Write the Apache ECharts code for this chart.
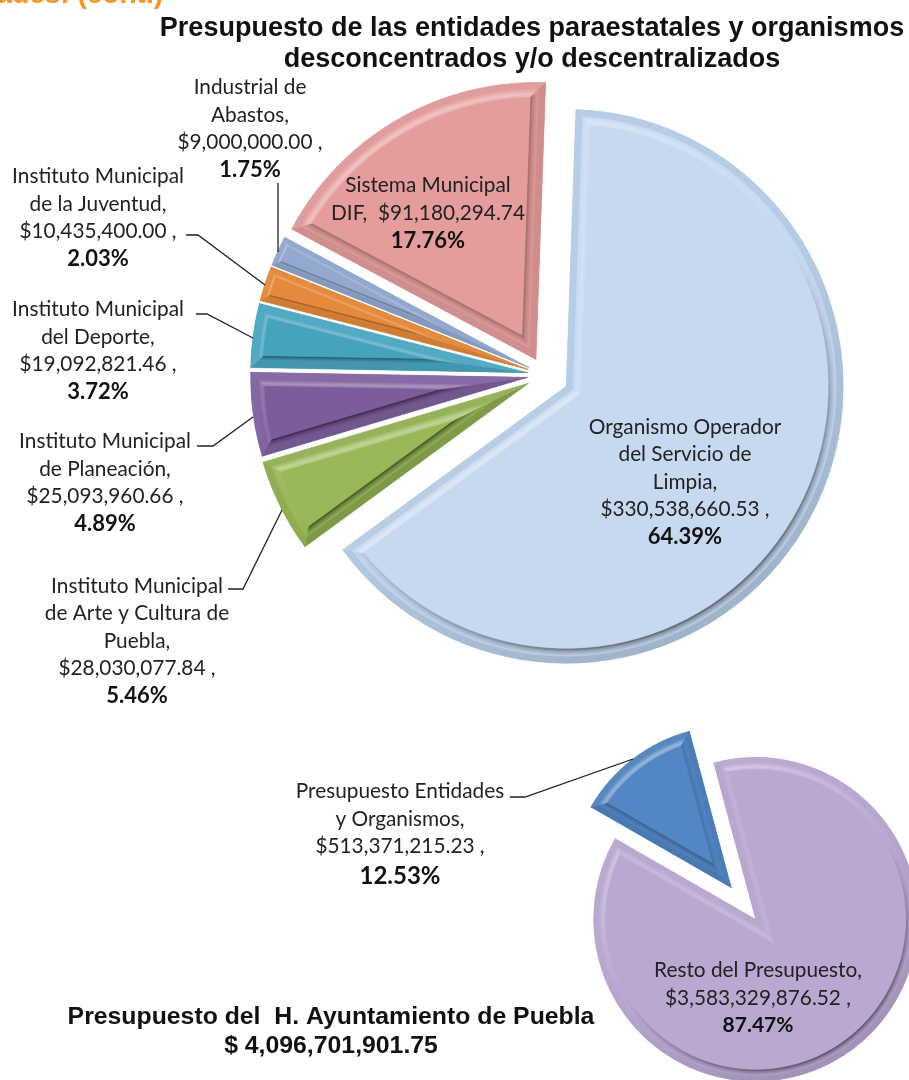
<!DOCTYPE html>
<html><head><meta charset="utf-8">
<style>html,body{margin:0;padding:0;background:#fff;overflow:hidden}#c{width:909px;height:1080px}</style>
<script src="https://cdn.jsdelivr.net/npm/echarts@6/dist/echarts.min.js"></script>
</head><body><div id="c"></div>
<script>
// ---- data ----
const mainNames = ['Organismo Operador\ndel Servicio de\nLimpia,','Instituto Municipal\nde Arte y Cultura de\nPuebla,','Instituto Municipal\nde Planeación,','Instituto Municipal\ndel Deporte,','Instituto Municipal\nde la Juventud,','Industrial de\nAbastos,','Sistema Municipal\nDIF, '];
const mainValues = [330538660.53,28030077.84,25093960.66,19092821.46,10435400.00,9000000.00,91180294.74];
const mainFaces = ['#C6D9F1','#98B957','#7C5C9A','#46A3BC','#E58A3C','#94A9CF','#E59D9C'];
const mainRims  = ['#B4CBE6','#8FAE52','#8064A2','#4BA7C0','#E2883A','#8FA5CC','#DD9897'];
const smallNames = ['Resto del Presupuesto,','Presupuesto Entidades\ny Organismos,'];
const smallValues = [3583329876.52,513371215.23];
const smallFaces = ['#BAA8D2','#5286C4'];
const smallRims = ['#B7A5CF','#4F81BD'];

// ---- layout (not data) ----
const mainPie = {cx:545,cy:375,r:277,start:2,offsets:[24,18.5,17.5,17.5,17.5,17.5,18]};
const smallPie = {cx:743.5,cy:903.5,r:162,start:-15,offsets:[20,20]};
const mainLabels = [
 {x:685,y:482,pct:'b'},{x:137,y:641,pct:'b',line:[[228,589],[243,589],[282,510]]},{x:105,y:483,pct:'b',line:[[197,446],[213,446],[253,417]]},
 {x:98,y:351,pct:'b',line:[[196,314],[207,314],[253,338]]},{x:98,y:218,pct:'b',line:[[186,235],[198,235],[265,285]]},
 {x:250,y:129,pct:'b',line:[[278,183],[278,183],[278,252]]},{x:428,y:213,pct:'b'}];
const smallLabels = [{x:758,y:998,pct:'s'},{x:400,y:835,pct:'l',line:[[510,797],[525,797],[633,759]]}];

const money = v => '$'+v.toLocaleString('en-US',{minimumFractionDigits:2,maximumFractionDigits:2});
const FONT = 'Lato';

function hex(c){return [1,3,5].map(i=>parseInt(c.substr(i,2),16));}
function mix(c,t,k){const a=hex(c),b=hex(t);return 'rgb('+a.map((v,i)=>Math.round(v+(b[i]-v)*k)).join(',')+')';}

// slice geometry from the values
function slices(values,pie){
  const tot=values.reduce((a,b)=>a+b,0);let a=pie.start;
  return values.map((v,i)=>{
    const sweep=v/tot*360, a0=a, a1=a+sweep; a=a1;
    const mid=(a0+a1)/2*Math.PI/180;
    const off=pie.offsets[i];
    return {a0,a1,half:sweep/2,cx:pie.cx+Math.sin(mid)*off,cy:pie.cy-Math.cos(mid)*off,mid,r:pie.r};
  });
}
function outline(s,ins,N){
  const h=s.half*Math.PI/180, d=ins/Math.sin(h), pts=[[s.cx+Math.sin(s.mid)*d,s.cy-Math.cos(s.mid)*d]];
  const R=s.r-ins, sh=Math.asin(ins/R), b0=s.a0*Math.PI/180+sh, b1=s.a1*Math.PI/180-sh;
  for(let i=0;i<=N;i++){const t=b0+(b1-b0)*i/N;pts.push([s.cx+Math.sin(t)*R,s.cy-Math.cos(t)*R]);}
  return pts;
}
function band(A,B,color,lit,dark,children){
  const n=A.length;
  for(let i=0;i<n;i++){
    const j=(i+1)%n,p=A[i],q=A[j],u=B[j],w=B[i];
    let ex=q[0]-p[0],ey=q[1]-p[1],l=Math.hypot(ex,ey)||1;let nx=ey/l,ny=-ex/l;
    const ox=(p[0]+q[0]-u[0]-w[0]),oy=(p[1]+q[1]-u[1]-w[1]);
    if(nx*ox+ny*oy<0){nx=-nx;ny=-ny;}
    const light=-ny*0.85-nx*0.5;
    const fill=light>0?mix(color,'#FFFFFF',Math.min(1,light)*lit):mix(color,'#000000',Math.min(1,-light)*dark);
    children.push({type:'polygon',shape:{points:[p,q,u,w]},style:{fill,stroke:fill,lineWidth:0.5}});
  }
}
function bevelChildren(s,face,rim){
  const w=s.r*Math.sin(Math.min(s.half,90)*Math.PI/180);
  const k=Math.max(s.r/277,.8);
  const i1=Math.min(7*k,w*0.30), i2=i1+Math.min(8*k,w*0.16);
  const N=Math.max(6,Math.ceil(s.half*2/3));
  const c=[];
  band(outline(s,0.01,N),outline(s,i1,N),rim,0.06,0.12,c);
  const steps=[[.12,.08],[.28,.18],[.42,.3],[.3,.5]];
  steps.forEach((st,q)=>{
    const a=i1+(i2-i1)*q/steps.length,b=i1+(i2-i1)*(q+1)/steps.length;
    band(outline(s,a,N),outline(s,b,N),face,st[0],st[1],c);
  });
  c.push({type:'polygon',shape:{points:outline(s,i2,N)},style:{fill:face,stroke:face,lineWidth:0.5}});
  return c;
}
function bevelSeries(name,geo,faces,rims){
  return {type:'custom',name:name,coordinateSystem:'none',silent:true,z:2,animation:false,clip:false,
    data:geo.map((_,i)=>i),
    renderItem:(p,api)=>{const i=api.value(0);return {type:'group',children:bevelChildren(geo[i],faces[i],rims[i])};},
    tooltip:{show:false}};
}
function basePie(name,names,values,pie,rims,visible,offset){
  return {type:'pie',name:name,z:1,center:[pie.cx,pie.cy],radius:[0,pie.r],startAngle:90-pie.start,clockwise:true,
    avoidLabelOverlap:false,animation:false,silent:true,selectedMode:'multiple',selectedOffset:offset,minAngle:0,
    label:{show:false},labelLine:{show:false},emphasis:{disabled:true},
    data:values.map((v,i)=>({name:names[i],value:v,selected:visible(i),
      itemStyle:{color:visible(i)?rims[i]:'transparent',borderWidth:0}}))};
}
function labelPie(name,names,values,pie,table){
  return {type:'pie',name:name,z:3,center:[pie.cx,pie.cy],radius:[0,pie.r],startAngle:90-pie.start,clockwise:true,
    avoidLabelOverlap:false,animation:false,silent:true,percentPrecision:2,emphasis:{disabled:true},
    itemStyle:{color:'transparent',borderWidth:0},
    label:{show:true,position:'outside',fontFamily:FONT,fontSize:20.8,lineHeight:27.5,color:'#222',align:'center',
      formatter:p=>{
        const nm=p.name,isDif=nm.endsWith(' ');
        const lines=nm.split('\n');
        lines[lines.length-1]=lines[lines.length-1]+(isDif?' '+money(p.value):'');
        if(!isDif) lines.push(money(p.value)+' ,');
        return lines.map(l=>'{n|'+l+'}').join('\n')+'\n{'+table[p.dataIndex].pct+'|'+p.percent.toFixed(2)+'%}';
      },
      rich:{n:{fontFamily:FONT,fontSize:20.8,lineHeight:27.5,color:'#222'},
            b:{fontFamily:FONT,fontSize:22,lineHeight:27.5,fontWeight:'bold',color:'#111'},
            s:{fontFamily:FONT,fontSize:21,lineHeight:27.5,fontWeight:'bold',color:'#111'},
            l:{fontFamily:FONT,fontSize:24,lineHeight:32,fontWeight:'bold',color:'#111'}}},
    labelLine:{show:true,lineStyle:{color:'#222',width:1.3}},
    labelLayout:p=>{const t=table[p.dataIndex];
      const o={x:t.x,y:t.y,align:'center',verticalAlign:'middle',hideOverlap:false};
      if(t.line)o.labelLinePoints=t.line;return o;},
    data:values.map((v,i)=>({name:names[i],value:v,labelLine:{show:!!table[i].line}}))};
}
const mainGeo=slices(mainValues,mainPie), smallGeo=slices(smallValues,smallPie);
const option={
  animation:false,backgroundColor:'#fff',
  title:[
    {text:'Presupuesto de las entidades paraestatales y organismos\ndesconcentrados y/o descentralizados',left:527,top:8,textAlign:'center',
     textStyle:{fontFamily:'Liberation Sans',fontSize:27,fontWeight:'bold',color:'#111',lineHeight:31}},
    {text:'Presupuesto del  H. Ayuntamiento de Puebla\n$ 4,096,701,901.75',left:326,top:998,textAlign:'center',
     textStyle:{fontFamily:'Liberation Sans',fontSize:24.8,fontWeight:'bold',color:'#111',lineHeight:29}},
    {text:'Entidades: (cont.)',left:158,top:-24,textAlign:'right',
     textStyle:{fontFamily:'Liberation Sans',fontSize:28,fontWeight:'bold',color:'#F7941D'}}
  ],
  series:[
    basePie('Entidades (resto)',mainNames,mainValues,mainPie,mainRims,i=>i!==0&&i!==6&&i!==1,17.5),
    basePie('Arte y Cultura',mainNames,mainValues,mainPie,mainRims,i=>i===1,18.5),
    basePie('Sistema DIF',mainNames,mainValues,mainPie,mainRims,i=>i===6,18),
    basePie('Organismo Operador',mainNames,mainValues,mainPie,mainRims,i=>i===0,24),
    basePie('Ayuntamiento',smallNames,smallValues,smallPie,smallRims,i=>true,20),
    bevelSeries('bevel main',mainGeo,mainFaces,mainRims),
    bevelSeries('bevel small',smallGeo,smallFaces,smallRims),
    labelPie('Etiquetas',mainNames,mainValues,mainPie,mainLabels),
    labelPie('Etiquetas 2',smallNames,smallValues,smallPie,smallLabels)
  ]
};
echarts.init(document.getElementById('c'),null,{renderer:'canvas'}).setOption(option);
</script></body></html>
